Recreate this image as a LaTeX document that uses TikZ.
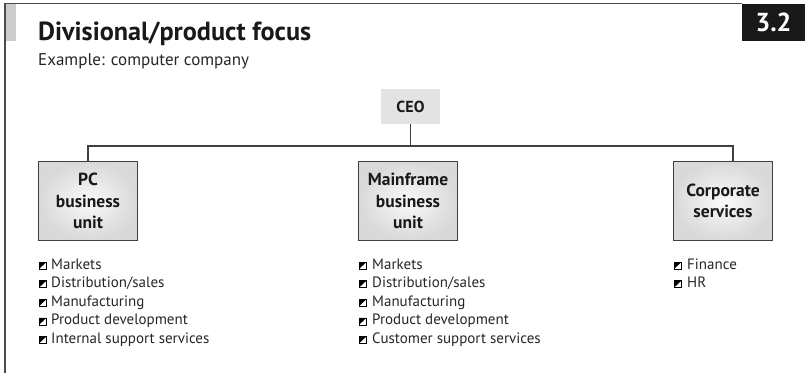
\documentclass[tikz,border=0pt]{standalone}
\usepackage{fontspec}
\setmainfont{PT Sans}
\begin{document}
\begin{tikzpicture}[x=1pt,y=-1pt,
  unitbox/.style={draw=black!75, line width=1.1pt, inner color=black!2, outer color=black!15,
    minimum width=99pt, minimum height=79pt, align=center, inner sep=0pt,
    font=\bfseries\fontsize{17.5}{21.5}\selectfont, text=black!90},
  ceobox/.style={fill=black!11, minimum width=59pt, minimum height=35pt, inner sep=0pt,
    font=\bfseries\fontsize{16}{19}\selectfont, text=black!90},
  itemtext/.style={anchor=base west, inner sep=0pt, font=\fontsize{15}{17}\selectfont, text=black!85},
  conn/.style={draw=black!75, line width=1.1pt},
  bul/.pic={\draw[line width=0.5pt, fill=white] (0,0) rectangle (7.5,7);
            \fill (0,0) -- (7.5,0) -- (0,7) -- cycle;}
]
\useasboundingbox (0,0) rectangle (805,373);
% frame
\fill[black!20] (5,4) rectangle (16,41);
\draw[black!70, line width=1.4pt] (5,373) -- (5,3.5) -- (742,3.5);
\node[fill=black!90, minimum width=63pt, minimum height=37pt, inner sep=0pt,
  text=white, font=\bfseries\fontsize{26}{28}\selectfont] (num) at (773.5,22) {3.2};
% title
\node[anchor=base west, inner sep=0pt, font=\bfseries\fontsize{26.2}{28}\selectfont, text=black!90] (title) at (38,40) {Divisional/product focus};
\node[anchor=base west, inner sep=0pt, font=\fontsize{17}{19}\selectfont, text=black!85] (sub) at (38,65.5) {Example: computer company};
% CEO
\node[ceobox] (ceo) at (410.5,106.5) {CEO};
% units
\node[unitbox] (pc) at (88,201) {PC\\business\\unit};
\node[unitbox] (mf) at (408,201) {Mainframe\\business\\unit};
\node[unitbox] (cs) at (723,201) {Corporate\\services};
% connectors
\coordinate (bus) at (410.5,146);
\draw[conn] (ceo.south) -- (bus);
\draw[conn] (pc.north) -- (88,146) -- (733,146) -- (733,161.5);
% lists
\foreach \t [count=\i] in {Markets,Distribution/sales,Manufacturing,Product development,Internal support services}{
  \pic at (39,{269-7+(\i-1)*18.6}) {bul};
  \node[itemtext] (pcl\i) at (51,{269+(\i-1)*18.6}) {\t};
}
\foreach \t [count=\i] in {Markets,Distribution/sales,Manufacturing,Product development,Customer support services}{
  \pic at (359,{269-7+(\i-1)*18.6}) {bul};
  \node[itemtext] (mfl\i) at (372,{269+(\i-1)*18.6}) {\t};
}
\foreach \t [count=\i] in {Finance,HR}{
  \pic at (674,{269-7+(\i-1)*18.6}) {bul};
  \node[itemtext] (csl\i) at (687,{269+(\i-1)*18.6}) {\t};
}
\end{tikzpicture}
\end{document}
